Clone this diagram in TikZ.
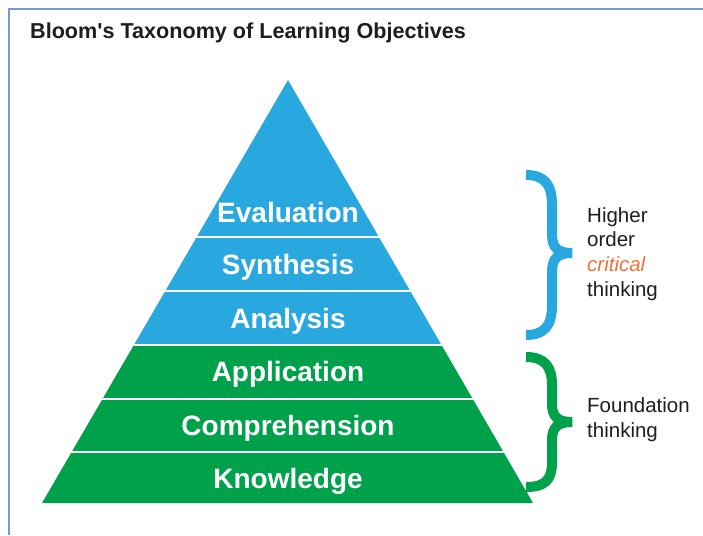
\documentclass[tikz,border=0pt]{standalone}
\usepackage{fontspec}
\setmainfont{Liberation Sans}
\newfontfamily\plainsans{Liberation Sans}
\definecolor{pblue}{HTML}{29A8E0}
\definecolor{pgreen}{HTML}{00A14B}
\definecolor{framec}{HTML}{7499D6}
\definecolor{txt}{HTML}{1E1E1E}
\definecolor{crit}{HTML}{E8743B}
\begin{document}
\begin{tikzpicture}[x=1pt,y=-1pt,
  lvl/.style={text=white,font=\fontsize{28}{28}\selectfont\bfseries,inner sep=0pt,anchor=base},
  side/.style={text=txt,font=\fontsize{20.5}{20.5}\selectfont,anchor=base west,inner sep=0pt},
  bracestyle/.style={line width=10pt,line cap=butt}]
\useasboundingbox (0,0) rectangle (703,535);
\fill[white] (0,0) rectangle (703,535);
% frame
\draw[framec,line width=1.6pt] (9,535) -- (9,9) -- (703,9);
% title
\node[anchor=base west,inner sep=0pt,text=txt,font=\plainsans\fontsize{21.6}{21.6}\selectfont\bfseries] (title) at (30,38) {Bloom's Taxonomy of Learning Objectives};
% pyramid
\coordinate (apex) at (288,80);
\coordinate (bl) at (42,503);
\coordinate (br) at (533,503);
\begin{scope}
\clip (apex) -- (br) -- (bl) -- cycle;
\fill[pblue] (0,60) rectangle (703,345);
\fill[pgreen] (0,345) rectangle (703,510);
\foreach \yy in {237,291,345,399,452} {
  \draw[white,line width=1.6pt] (0,\yy) -- (703,\yy);
}
\end{scope}
\node[lvl] (eval) at (288,222) {Evaluation};
\node[lvl] (syn) at (288,274) {Synthesis};
\node[lvl] (ana) at (288,328) {Analysis};
\node[lvl] (app) at (288,381) {Application};
\node[lvl] (comp) at (288,435) {Comprehension};
\node[lvl] (know) at (288,488) {Knowledge};
% braces
\draw[pblue,bracestyle] (526,175) .. controls (545,175) and (552,185) .. (552,205) -- (552,234)
  .. controls (552,248) and (558,253) .. (572,253)
  .. controls (558,253) and (552,258) .. (552,272) -- (552,305)
  .. controls (552,325) and (545,335) .. (526,335);
\draw[pgreen,bracestyle] (526,357) .. controls (545,357) and (552,367) .. (552,385) -- (552,404)
  .. controls (552,417) and (558,422) .. (572,422)
  .. controls (558,422) and (552,427) .. (552,440) -- (552,462)
  .. controls (552,480) and (545,487) .. (526,487);
% side texts
\node[side] (h1) at (587,222) {Higher};
\node[side] (h2) at (587,246) {order};
\node[side,text=crit,font=\fontsize{20.5}{20.5}\selectfont\itshape] (h3) at (587,271) {critical};
\node[side] (h4) at (587,296) {thinking};
\node[side] (f1) at (587,412) {Foundation};
\node[side] (f2) at (587,437) {thinking};
\end{tikzpicture}
\end{document}
